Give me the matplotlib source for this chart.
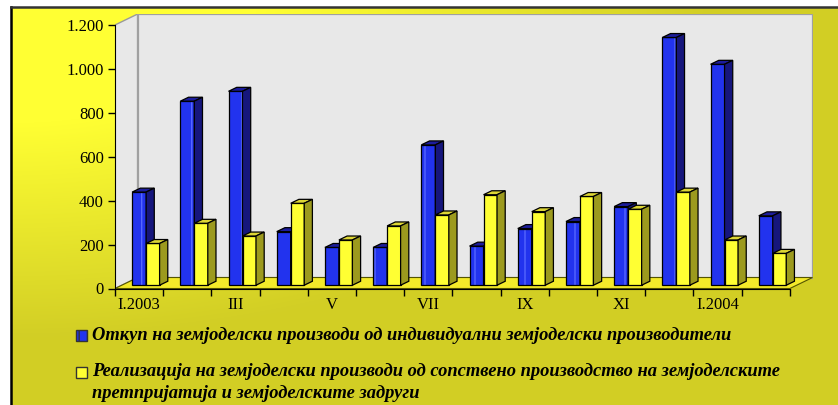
import numpy as np
import matplotlib.pyplot as plt
from matplotlib.patches import Polygon, Rectangle
from matplotlib.lines import Line2D

# data (monthly, I.2003 - II.2004)
months = ['I.2003', 'II', 'III', 'IV', 'V', 'VI', 'VII', 'VIII', 'IX', 'X',
          'XI', 'XII', 'I.2004', 'II']
otkup = [424, 838, 883, 244, 172, 172, 639, 178, 258, 290, 358, 1128, 1006, 316]
realizacija = [190, 282, 224, 373, 206, 270, 320, 412, 335, 404, 346, 424, 206, 145]
y_ticks = [0, 200, 400, 600, 800, 1000, 1200]
y_labels = ['0', '200', '400', '600', '800', '1.000', '1.200']
legend_labels = [
    'Откуп на земјоделски производи од индивидуални земјоделски производители',
    'Реализација на земјоделски производи од сопствено производство на земјоделските\n'
    'претпријатија и земјоделските задруги',
]

W, H = 838, 405
fig = plt.figure(figsize=(W / 100, H / 100), dpi=100)
fig.patch.set_facecolor('white')
plt.rcParams['hatch.linewidth'] = 1.0


def fx(px):
    return px / W


def fy(py):
    return 1 - py / H


# gradient background of the chart area
bg = fig.add_axes([fx(11), 0, 1 - fx(11), 1 - 7 / H])
bw, bh = W - 11, H - 7
xx, yy = np.meshgrid(np.arange(bw), np.arange(bh))
t = np.clip((np.hypot(xx / 700, yy / 330) - 0.35) / 0.65, 0, 1)[..., None]
c0 = np.array([1.0, 1.0, 0.2])
c1 = np.array([0.824, 0.808, 0.145])
bg.imshow(c0 * (1 - t) + c1 * t, aspect='auto', interpolation='bilinear')
bg.axis('off')
fig.add_artist(Line2D([fx(11), fx(11)], [0, fy(7)], color='black', lw=1.8))
fig.add_artist(Line2D([fx(11), 1], [fy(7), fy(7)], color='#333333', lw=1.8))

# main 3d-looking plot
x0, x1 = 115, 813
y0, y1 = 288.5, 14
ax = fig.add_axes([fx(x0), fy(y0), (x1 - x0) / W, (y0 - y1) / H])
ax.set_xlim(0, 14.48)
ax.set_ylim(0, 1250)
ax.patch.set_visible(False)

wdx, wdy = 0.47, 50  # depth of walls/floor
n = len(months)

# walls and floor
ax.add_patch(Polygon([(0, 0), (wdx, wdy), (wdx, 1200 + wdy), (0, 1200)],
                     closed=True, facecolor='#e8e8e8', edgecolor='#9a9a9a', lw=1, zorder=1))
ax.add_patch(Polygon([(wdx, wdy), (n + wdx, wdy), (n + wdx, 1200 + wdy), (wdx, 1200 + wdy)],
                     closed=True, facecolor='#e8e8e8', edgecolor='#a0a0a0', lw=1.6, zorder=1))
ax.add_patch(Polygon([(0, 0), (n, 0), (n + wdx, wdy), (wdx, wdy)],
                     closed=True, facecolor='#f4ea2a', edgecolor='#555500', lw=0.8, zorder=2))

# bars
bx, by = 0.13, 15          # bars sit a bit back on the floor
ddx, ddy = 0.17, 18        # bar depth
bw_blue, bw_yel = 0.29, 0.28
xs = np.arange(n)


def bar3d(x, h, w, front, top, side, hatch_col, z):
    ax.bar([x], [h], width=w, bottom=by, align='edge', color=front,
           edgecolor=hatch_col if hatch_col else front,
           hatch='|' if hatch_col else None, lw=0.01, zorder=z)
    ax.bar([x], [h], width=w, bottom=by, align='edge', fill=False,
           edgecolor='black', lw=0.9, zorder=z + 0.1)
    ytop = by + h
    ax.add_patch(Polygon([(x, ytop), (x + w, ytop), (x + w + ddx, ytop + ddy),
                          (x + ddx, ytop + ddy)], closed=True, facecolor=top,
                         edgecolor='black', lw=0.9, zorder=z + 0.2))
    ax.add_patch(Polygon([(x + w, by), (x + w + ddx, by + ddy), (x + w + ddx, ytop + ddy),
                          (x + w, ytop)], closed=True, facecolor=side,
                         edgecolor='black', lw=0.9, zorder=z + 0.2))


for i in range(n):
    xb = xs[i] + bx + 0.225
    bar3d(xb, otkup[i], bw_blue, '#2233ee', '#1c1c9c', '#16167c', '#5566ff', 3 + i)
    bar3d(xb + bw_blue, realizacija[i], bw_yel, '#ffff33', '#ddd635', '#9c9a1e', None, 3.5 + i)

# axes, ticks and labels
for s in ['top', 'right']:
    ax.spines[s].set_visible(False)
ax.spines['left'].set_bounds(0, 1200)
ax.spines['bottom'].set_bounds(0, n)
ax.spines['left'].set_zorder(30)
ax.spines['bottom'].set_zorder(30)
ax.set_yticks(y_ticks)
ax.set_yticklabels(y_labels, fontfamily='Liberation Serif', fontsize=12)
ax.tick_params(axis='y', length=5, width=1, pad=3)
ax.set_xticks(np.arange(n + 1))
ax.set_xticklabels([])
ax.tick_params(axis='x', which='major', length=5, width=1)
ax.set_xticks(xs[::2] + 0.5, minor=True)
ax.set_xticklabels(months[::2], minor=True, fontfamily='Liberation Serif', fontsize=12)
ax.tick_params(axis='x', which='minor', length=0, pad=6)

# legend
leg_font = dict(fontfamily='Liberation Serif', fontweight='bold', fontstyle='italic',
                fontsize=13.3, va='center', ha='left')
fig.add_artist(Rectangle((fx(76), fy(341)), fx(11), 11 / H, facecolor='#2233ee',
                         edgecolor='#333333', hatch='||', lw=1))
fig.text(fx(92), fy(335), legend_labels[0], **leg_font)
fig.add_artist(Rectangle((fx(76), fy(378)), fx(11), 11 / H, facecolor='#ffff33',
                         edgecolor='#333333', lw=1))
fig.text(fx(92), fy(382.5), legend_labels[1], linespacing=1.35, **leg_font)

fig.savefig('out.png', dpi=100)
